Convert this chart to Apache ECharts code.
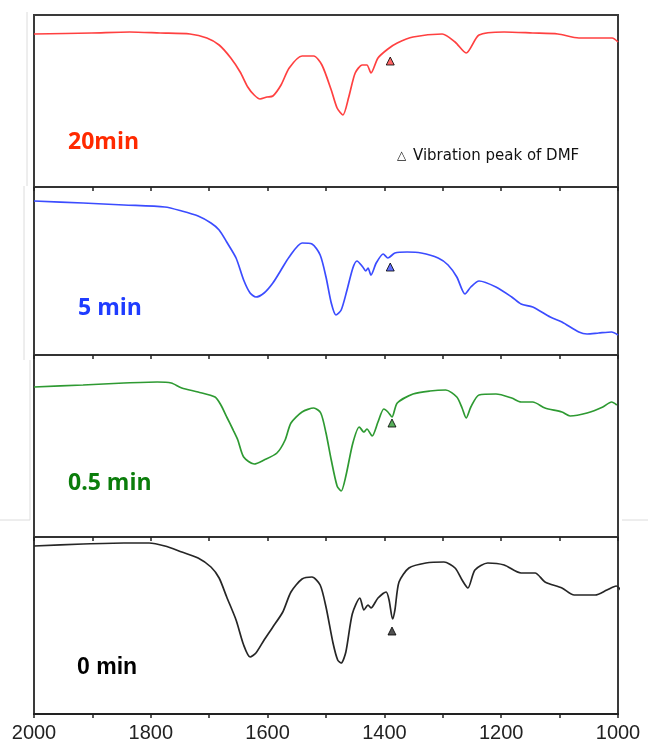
<!DOCTYPE html>
<html><head><meta charset="utf-8">
<script src="https://cdn.jsdelivr.net/npm/echarts@6/dist/echarts.min.js"></script>
<style>html,body{margin:0;padding:0;background:#fff}#c{width:648px;height:743px}</style>
</head><body><div id="c"></div><script>
// ---- data (wavenumber cm-1, transmittance a.u.) ----
const wn20 = [2000,1901,1836,1784,1733,1704,1683,1663,1647,1634,1623,1613,1601,1591,1577,1563,1541,1521,1507,1491,1481,1471,1461,1450,1438,1430,1423,1411,1394,1378,1351,1301,1279,1260,1238,1195,1146,1103,1067,1010,1000];
const t20  = [153,154,155,154,153,149,142,129,115,100,92,88,90,91,102,119,131,131,122,97,79,72,90,114,122,122,114,129,138,144,150,153,145,134,152,155,154,153,149,149,145];

const wn5 = [2000,1916,1846,1776,1747,1719,1697,1683,1670,1654,1641,1630,1620,1606,1591,1577,1563,1541,1524,1510,1500,1491,1483,1474,1464,1454,1447,1437,1432,1428,1423,1414,1402,1394,1382,1361,1337,1308,1291,1276,1262,1252,1238,1209,1182,1166,1146,1116,1096,1067,1053,1033,1011,1000];
const t5  = [154,152,150,148,144,139,132,125,113,97,75,62,58,62,72,85,98,112,111,100,78,52,40,45,65,87,94,88,84,87,80,92,101,97,102,103,102,97,90,78,61,68,74,68,58,51,48,38,33,23,21,22,23,20];

const wn05 = [2000,1916,1846,1789,1765,1747,1719,1690,1680,1670,1659,1651,1641,1623,1606,1584,1570,1560,1541,1521,1509,1500,1491,1481,1474,1466,1454,1443,1435,1430,1421,1411,1401,1394,1387,1378,1351,1322,1295,1276,1267,1260,1252,1238,1209,1182,1166,1146,1125,1096,1082,1053,1026,1011,1002];
const t05  = [151,153,155,156,155,150,146,141,133,121,108,98,81,74,78,85,98,115,126,130,125,105,78,52,47,62,95,111,106,109,102,116,129,126,121,135,144,147,148,141,130,120,131,143,144,140,136,136,130,126,122,125,131,136,133];

const wn0 = [2000,1916,1846,1803,1776,1747,1719,1697,1683,1670,1654,1641,1630,1620,1606,1591,1574,1560,1541,1524,1510,1500,1488,1480,1474,1466,1455,1442,1435,1428,1423,1411,1397,1392,1386,1382,1375,1358,1329,1298,1279,1267,1257,1245,1223,1195,1166,1142,1125,1096,1075,1039,1019,1003,993];
const t0  = [168,170,171,171,168,162,156,147,136,117,94,69,57,61,74,87,102,122,135,137,129,107,71,54,51,62,100,116,104,109,106,116,122,114,95,104,132,146,151,152,146,134,126,144,151,149,141,141,132,126,119,119,124,128,122];

// DMF vibration peak markers
const markerWn  = [1390, 1390, 1387, 1387];
const markerVal = [126, 88, 115, 83];

const panelLabels = ['20min', '5 min', '0.5 min', '0 min'];
const xTicks = [2000, 1800, 1600, 1400, 1200, 1000];
const legendText = 'Vibration peak of DMF';

// ---- layout / style ----
const series_wn = [wn20, wn5, wn05, wn0];
const series_t  = [t20, t5, t05, t0];
const lineColors = ['#ff4040', '#3b4cff', '#2e9a32', '#262626'];
const labelColors = ['#ff2a00', '#1f3cff', '#0b7d0b', '#000000'];
const labelFonts = ['bold 23px "Open Sans"', 'bold 23px "Open Sans"', 'bold 23px "Open Sans"', 'bold 23px "Liberation Sans"'];
const labelPos = [[68,142],[78,308],[68,483],[77,667]];
const panels = [
  {top:15,  height:172, ymin:0, ymax:172},
  {top:187, height:168, ymin:0, ymax:168},
  {top:355, height:182, ymin:1, ymax:183},
  {top:537, height:177, ymin:0, ymax:177}
];

const chart = echarts.init(document.getElementById('c'), null, {renderer:'canvas'});
const grid = [], xAxis = [], yAxis = [], series = [];
panels.forEach((p, i) => {
  grid.push({left:34, right:30, top:p.top, height:p.height, show:true, borderColor:'#3a3a3a', borderWidth:2, backgroundColor:'transparent'});
  xAxis.push({
    type:'value', gridIndex:i, position:'bottom', inverse:true, min:1000, max:2000, interval:100,
    axisLine:{show: i===3, lineStyle:{color:'#222', width:2}},
    axisTick:{show: i===3, inside:false, length:4, lineStyle:{color:'#222', width:1.5}},
    axisLabel:{show: i===3, margin:9, color:'#222', fontSize:20, fontFamily:'Liberation Sans',
      formatter: v => xTicks.indexOf(v) >= 0 ? String(v) : ''},
    splitLine:{show:false}
  });
  xAxis.push({
    type:'value', gridIndex:i, position:'top', inverse:true, min:1000, max:2000, interval:100,
    axisLine:{show: i>0, lineStyle:{color:'#333', width:2}},
    axisTick:{show: i>0, inside:true, length:4, lineStyle:{color:'#222', width:1.5}},
    axisLabel:{show:false}, splitLine:{show:false}
  });
  yAxis.push({type:'value', gridIndex:i, min:p.ymin, max:p.ymax,
    axisLine:{show:false}, axisTick:{show:false}, axisLabel:{show:false}, splitLine:{show:false}});
  series.push({
    type:'line', xAxisIndex:2*i, yAxisIndex:i, showSymbol:false, smooth:0.25, clip:false,
    lineStyle:{color:lineColors[i], width:1.7}, itemStyle:{color:lineColors[i]},
    data: series_wn[i].map((w, j) => [w, series_t[i][j]]), z:3
  });
  series.push({
    type:'scatter', xAxisIndex:2*i, yAxisIndex:i, symbol:'triangle', symbolSize:[8,8],
    itemStyle:{color:lineColors[i], borderColor:'#000', borderWidth:1},
    data:[[markerWn[i], markerVal[i]]], z:4
  });
});

const graphic = [];
panelLabels.forEach((t, i) => {
  graphic.push({type:'text', left:labelPos[i][0], top:labelPos[i][1]-11,
    style:{text:t, fill:labelColors[i], font:labelFonts[i]}});
});
graphic.push({type:'text', left:397, top:150, style:{text:'\u25B3', fill:'#111', font:'12px "DejaVu Sans"'}});
graphic.push({type:'text', left:413, top:149, style:{text:legendText, fill:'#111', font:'15px "DejaVu Sans"'}});
const faint = {stroke:'#dcdcdc', lineWidth:1};
graphic.push({type:'line', shape:{x1:27, y1:12, x2:27, y2:186}, style:faint, silent:true});
graphic.push({type:'line', shape:{x1:24, y1:186, x2:24, y2:360}, style:faint, silent:true});
graphic.push({type:'line', shape:{x1:30, y1:360, x2:30, y2:520}, style:faint, silent:true});
graphic.push({type:'line', shape:{x1:0, y1:520, x2:30, y2:520}, style:faint, silent:true});
graphic.push({type:'line', shape:{x1:622, y1:520, x2:648, y2:520}, style:faint, silent:true});

chart.setOption({animation:false, backgroundColor:'#fff', grid, xAxis, yAxis, series, graphic});
</script></body></html>
